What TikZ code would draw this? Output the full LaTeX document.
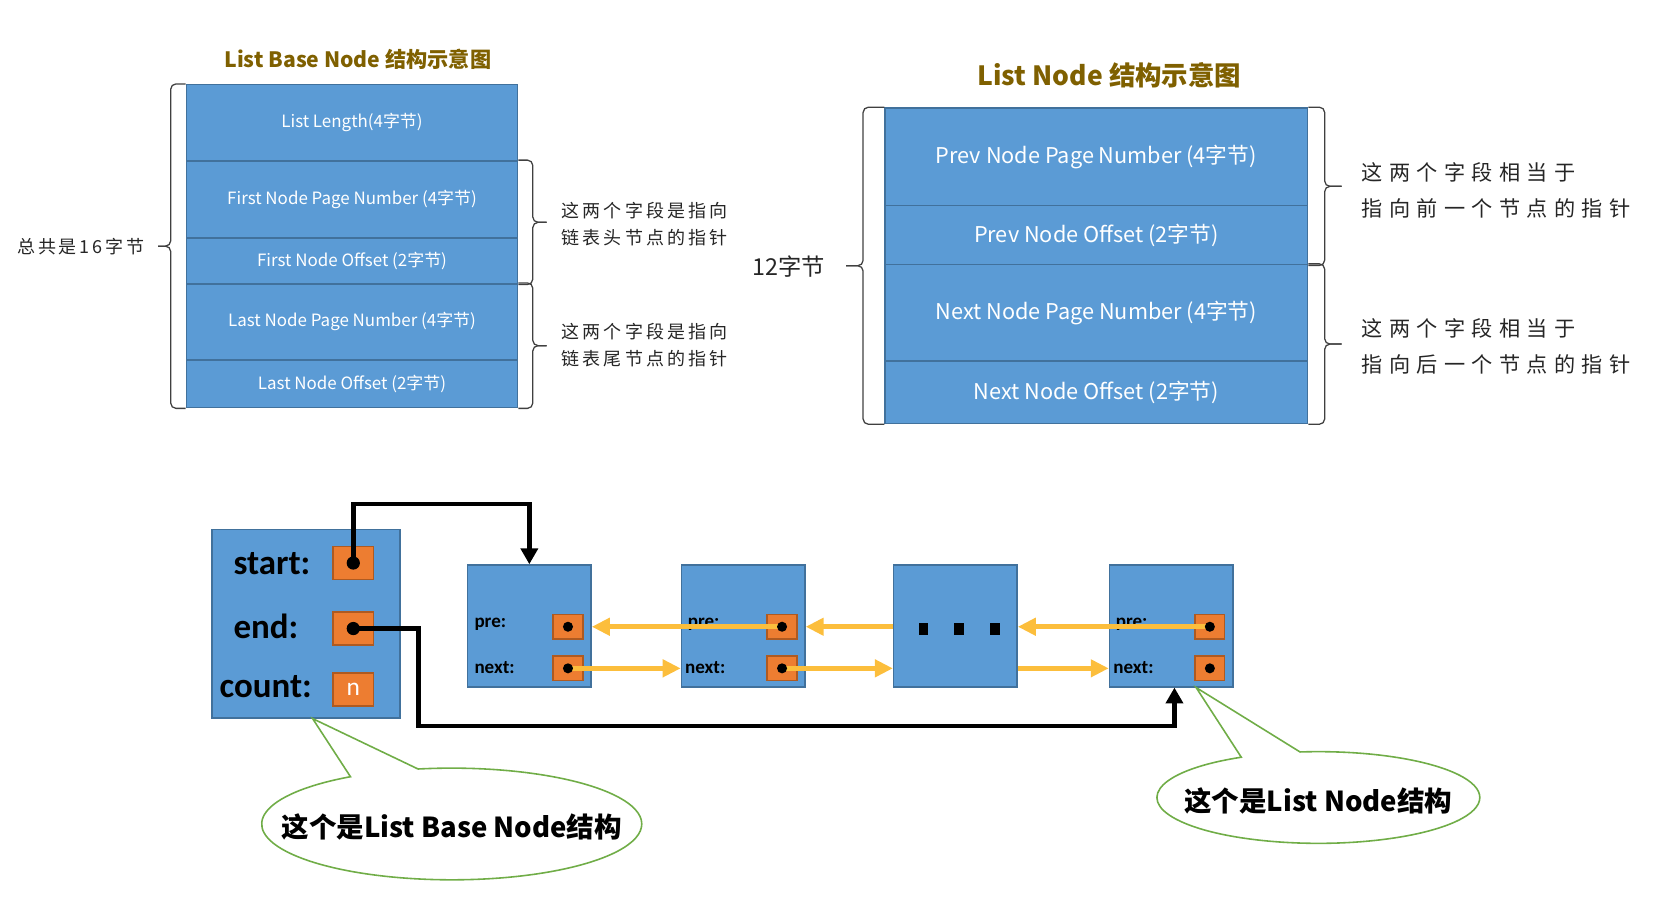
\documentclass[tikz,border=0pt]{standalone}
\usepackage{fontspec}
\setmainfont{Noto Sans CJK SC}
\newfontfamily\handfont{Noto Sans CJK SC}
\newfontfamily\calibri{Carlito}
\usetikzlibrary{positioning, calc, arrows.meta, shapes.callouts}
\definecolor{fieldblue}{RGB}{91,155,213}
\definecolor{fieldborder}{RGB}{65,113,156}
\definecolor{ptrorange}{RGB}{237,125,49}
\definecolor{ptrborder}{RGB}{174,90,33}
\definecolor{linkyellow}{RGB}{252,190,60}
\definecolor{titlebrown}{RGB}{127,96,0}
\definecolor{calloutgreen}{RGB}{112,173,71}
\tikzset{>={Triangle[width=16pt,length=15pt]}}
\newcommand{\calltext}[1]{\smash{\makebox[0pt]{\raisebox{-13pt}{#1}}}}
% brace from #1 to #2, bulge #3, tip #4
\newcommand{\bracket}[4]{%
    \draw[curly] (#1) -- ++(#3,0) |- ($(#1)!0.5!(#2)+(#3+#4,0)$);
    \draw[curly] (#2) -- ++(#3,0) |- ($(#1)!0.5!(#2)+(#3+#4,0)$);}

\begin{document}
\begin{tikzpicture}[x=1pt, y=-1pt,
    field/.style={rectangle, draw=fieldborder, fill=fieldblue, line width=1.5pt, text=white, inner sep=0pt},
    basefield/.style={field, minimum width=313pt, font=\fontsize{16}{19}\selectfont},
    nodefield/.style={field, minimum width=399pt, font=\fontsize{20.5}{24}\selectfont},
    title/.style={text=titlebrown, inner sep=0pt},
    curly/.style={draw=black!75, line width=1.2pt, rounded corners=5pt},
    note/.style={anchor=west, align=left, inner sep=0pt, text=black!85},
    box/.style={rectangle, draw=fieldborder, fill=fieldblue, line width=1.5pt},
    lnode/.style={box, minimum width=116.5pt, minimum height=115pt},
    ptrbox/.style={rectangle, draw=ptrborder, fill=ptrorange, line width=1.5pt, inner sep=0pt},
    smallptr/.style={ptrbox, minimum width=28pt, minimum height=23pt},
    bigptr/.style={ptrbox, minimum width=38pt, minimum height=31pt},
    biglabel/.style={anchor=west, inner sep=0pt, font=\calibri\bfseries\fontsize{33}{36}\selectfont},
    smalllabel/.style={anchor=west, inner sep=0pt, font=\calibri\bfseries\fontsize{18}{20}\selectfont},
    dot/.style={circle, fill=black, inner sep=0pt, minimum size=9.5pt},
    bigdot/.style={circle, fill=black, inner sep=0pt, minimum size=12.5pt},
    gap/.style={rectangle, fill=black, inner sep=0pt, minimum width=9pt, minimum height=12pt},
    ylink/.style={-{Triangle[width=16pt,length=17pt]}, draw=linkyellow, line width=4.4pt},
    blink/.style={->, draw=black, line width=4.4pt},
    callout/.style={ellipse callout, draw=calloutgreen, fill=white, line width=1.5pt, inner sep=0pt, callout pointer arc=22, font=\bfseries\fontsize{26}{30}\selectfont}]

    \useasboundingbox (0,0) rectangle (1568,863.3);

    %List Base Node
    \node[title, font=\bfseries\fontsize{20}{24}\selectfont] (basetitle) at (338,56) {List Base Node 结构示意图};
    \node[basefield, minimum height=72pt] (listlen) at (332.5,116) {List Length(4字节)};
    \node[basefield, minimum height=73pt] (firstpage) at (332.5,188.5) {First Node Page Number (4字节)};
    \node[basefield, minimum height=43pt] (firstoff) at (332.5,246.5) {First Node Offset (2字节)};
    \node[basefield, minimum height=72pt] (lastpage) at (332.5,304) {Last Node Page Number (4字节)};
    \node[basefield, minimum height=45pt] (lastoff) at (332.5,362.5) {Last Node Offset (2字节)};

    \bracket{listlen.north west}{lastoff.south west}{-14}{-12}
    \bracket{firstpage.north east}{firstoff.south east}{13.5}{13}
    \bracket{lastpage.north east}{lastoff.south east}{13.5}{13}

    \node[note, font=\fontsize{17}{20}\handfont\addfontfeature{LetterSpace=16}] (totalnote) at (16,233) {总共是16字节};
    \node[note, font=\fontsize{17}{25.5}\handfont\addfontfeature{LetterSpace=18}] (headnote) at (530,212) {这两个字段是指向\\链表头节点的指针};
    \node[note, font=\fontsize{17}{25.5}\handfont\addfontfeature{LetterSpace=18}] (tailnote) at (530,326) {这两个字段是指向\\链表尾节点的指针};

    %List Node
    \node[title, font=\bfseries\fontsize{25}{30}\selectfont] (nodetitle) at (1048,70.8) {List Node 结构示意图};
    \node[nodefield, minimum height=92pt] (prevpage) at (1035.5,148) {Prev Node Page Number (4字节)};
    \node[nodefield, minimum height=56pt] (prevoff) at (1035.5,222) {Prev Node Offset (2字节)};
    \node[nodefield, minimum height=91pt] (nextpage) at (1035.5,295.5) {Next Node Page Number (4字节)};
    \node[nodefield, minimum height=59pt] (nextoff) at (1035.5,370.5) {Next Node Offset (2字节)};

    \bracket{prevpage.north west}{nextoff.south west}{-20}{-16}
    \bracket{prevpage.north east}{prevoff.south east}{15.5}{16}
    \bracket{nextpage.north east}{nextoff.south east}{15.5}{16}

    \node[inner sep=0pt, text=black!85, font=\fontsize{22}{26}\selectfont] (sizenote) at (744.7,252) {12字节};
    \node[note, font=\fontsize{20}{34}\handfont\addfontfeature{LetterSpace=30}] (prevnote) at (1286,180) {这两个字段相当于\\指向前一个节点的指针};
    \node[note, font=\fontsize{20}{34}\handfont\addfontfeature{LetterSpace=30}] (nextnote) at (1286,327) {这两个字段相当于\\指向后一个节点的指针};

    %Linked list
    \node[box, minimum width=178pt, minimum height=178pt] (lbase) at (289,589) {};
    \node[biglabel] (startlbl) at (220.4,532) {start:};
    \node[biglabel] (endlbl) at (220.4,592) {end:};
    \node[biglabel] (countlbl) at (207.2,648.6) {count:};
    \node[bigptr] (startptr) at (333.7,531.8) {};
    \node[bigptr] (endptr) at (333.7,593.7) {};
    \node[bigptr, text=white, font=\calibri\fontsize{24}{28}\selectfont] (countptr) at (333.7,651.3) {n};

    \node[lnode] (first) at (500,591.2) {};
    \node[lnode] (second) at (702,591.2) {};
    \node[lnode] (middle) at (902.4,591.2) {};
    \node[lnode] (last) at (1106.3,591.2) {};

    \node[smalllabel] (firstpre) at (448,589.5) {pre:};
    \node[smalllabel] (firstnext) at (448,631) {next:};
    \node[smalllabel] (secondpre) at (649.5,589.5) {pre:};
    \node[smalllabel] (secondnext) at (647,631) {next:};
    \node[smalllabel] (lastpre) at (1053.8,589.5) {pre:};
    \node[smalllabel] (lastnext) at (1051.5,631) {next:};

    \node[smallptr] (firstpresq) at (536.5,592) {};
    \node[smallptr] (firstnextsq) at (536.5,631.3) {};
    \node[smallptr] (secondpresq) at (738.7,592) {};
    \node[smallptr] (secondnextsq) at (738.7,631.3) {};
    \node[smallptr] (lastpresq) at (1142.8,592) {};
    \node[smallptr] (lastnextsq) at (1142.8,631.3) {};

    \node[gap] (gapa) at (872.4,594) {};
    \node[gap] (gapb) at (906,594) {};
    \node[gap] (gapc) at (939.6,594) {};

    %Lines
    \draw[ylink] (secondpresq.center) -- (first.east |- secondpresq.center);
    \draw[ylink] (middle.west |- secondpresq.center) -- (second.east |- secondpresq.center);
    \draw[ylink] (lastpresq.center) -- (middle.east |- lastpresq.center);
    \draw[ylink] (firstnextsq.center) -- (second.west |- firstnextsq.center);
    \draw[ylink] (secondnextsq.center) -- (middle.west |- secondnextsq.center);
    \draw[ylink] (middle.east |- lastnextsq.center) -- (last.west |- lastnextsq.center);

    \draw[blink] (startptr.center) -- ++(0,-55.8) -| (first.north);
    \draw[blink] (endptr.center) -- ++(61.3,0) -- ++(0,92) -| (last.-87);

    %Dots
    \node[bigdot] (startdot) at (startptr.center) {};
    \node[bigdot] (enddot) at (endptr.center) {};
    \node[dot] (firstpredot) at (firstpresq.center) {};
    \node[dot] (firstnextdot) at (firstnextsq.center) {};
    \node[dot] (secondpredot) at (secondpresq.center) {};
    \node[dot] (secondnextdot) at (secondnextsq.center) {};
    \node[dot] (lastpredot) at (lastpresq.center) {};
    \node[dot] (lastnextdot) at (lastnextsq.center) {};

    %Callouts
    \node[callout, minimum width=359pt, minimum height=105.5pt, callout absolute pointer={(lbase.-86)}] (basenote) at (426.7,778.3) {\calltext{这个是List Base Node结构}};
    \node[callout, minimum width=305pt, minimum height=86.6pt, callout absolute pointer={(last.-68)}] (nodenote) at (1245.3,753.3) {\calltext{这个是List Node结构}};
\end{tikzpicture}
\end{document}
